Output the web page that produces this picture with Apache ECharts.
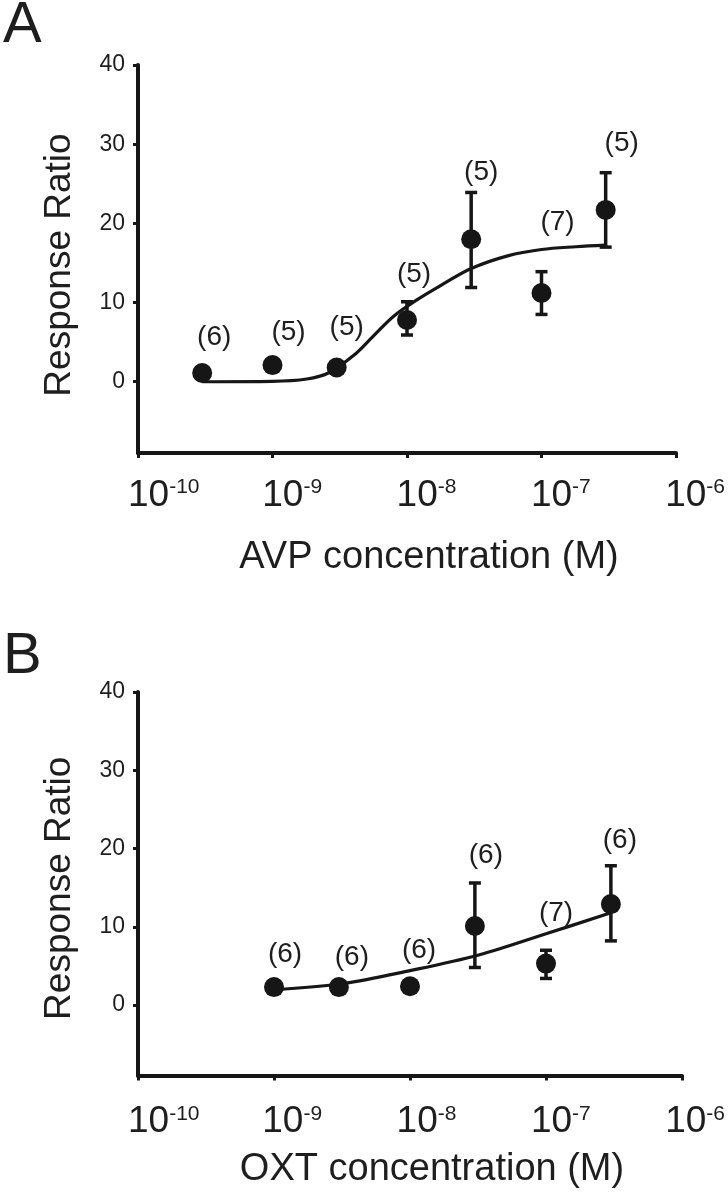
<!DOCTYPE html>
<html><head><meta charset="utf-8">
<script src="https://cdn.jsdelivr.net/npm/echarts@6/dist/echarts.min.js"></script>
<style>html,body{margin:0;padding:0;background:#fff}#c{width:728px;height:1200px}</style>
</head><body><div id="c"></div>
<script>
// ---------- Panel A : AVP ----------
const avpConc = [3e-10, 1e-9, 3e-9, 1e-8, 3e-8, 1e-7, 3e-7];
const avpMean = [1.1, 2.1, 1.8, 7.8, 18.0, 11.2, 21.7];
const avpLow  = [null, null, null, 5.9, 11.9, 8.5, 17.0];
const avpHigh = [null, null, null, 10.1, 23.9, 13.9, 26.4];
const avpN    = ['(6)', '(5)', '(5)', '(5)', '(5)', '(7)', '(5)'];
const avpFitConc  = [3e-10, 1e-9, 1.8e-9, 2.6e-9, 4e-9, 5.5e-9, 8e-9, 1.2e-8, 1.8e-8, 3e-8, 5.6e-8, 1e-7, 1.8e-7, 3e-7];
const avpFitValue = [0.0, 0.05, 0.35, 1.1, 3.3, 5.6, 8.3, 10.4, 12.2, 14.3, 15.9, 16.7, 17.05, 17.25];

// ---------- Panel B : OXT ----------
const oxtConc = [1e-9, 3e-9, 1e-8, 3e-8, 1e-7, 3e-7];
const oxtMean = [2.3, 2.3, 2.4, 10.1, 5.3, 12.9];
const oxtLow  = [null, null, null, 4.8, 3.4, 8.2];
const oxtHigh = [null, null, null, 15.6, 7.0, 17.8];
const oxtN    = ['(6)', '(6)', '(6)', '(6)', '(7)', '(6)'];
const oxtFitConc  = [1e-9, 3.2e-9, 1e-8, 3.2e-8, 1e-7, 3e-7];
const oxtFitValue = [1.95, 2.75, 4.4, 6.4, 9.1, 11.8];

// ---------- Axes ----------
const xMin = 1e-10, xMax = 1e-6;
const yMin = -9, yMax = 40;
const yTicks = [0, 10, 20, 30, 40];
const panelLetters = ['A', 'B'];
const xNames = ['AVP concentration (M)', 'OXT concentration (M)'];
const yName = 'Response Ratio';

// ---------- layout / style (not data) ----------
const FONT = '"Liberation Sans", Arial, Helvetica, sans-serif';
const INK = '#161616';
const TXT = '#1e1e1e';
const offsA = [[12,-36],[16,-33],[10,-40],[7,-46],[10,-67],[16,-71],[16,-67]];
const offsB = [[11,-33],[13,-30],[9,-36],[11,-71],[10,-50],[9,-64]];
const layout = [
  {left: 138, top: 65, width: 538, height: 388, nameGapX: 86, namePadY: 12, labelMargin: 24},
  {left: 138, top: 692, width: 544, height: 383.5, nameGapX: 75, namePadY: 9, labelMargin: 28}
];

function expLabel(v) {
  const e = Math.round(Math.log10(v));
  return '{b|10}{s|' + e + '}';
}

const grids = [], xAxes = [], yAxes = [], series = [];

function errRender(params, api) {
  const x = api.value(0), lo = api.value(1), hi = api.value(2);
  const pLo = api.coord([x, lo]), pHi = api.coord([x, hi]);
  const hw = 6;
  const st = {stroke: INK, lineWidth: 3.5, fill: null};
  return {type: 'group', children: [
    {type: 'line', shape: {x1: pLo[0], y1: pLo[1], x2: pHi[0], y2: pHi[1]}, style: st},
    {type: 'line', shape: {x1: pLo[0] - hw, y1: pLo[1], x2: pLo[0] + hw, y2: pLo[1]}, style: st},
    {type: 'line', shape: {x1: pHi[0] - hw, y1: pHi[1], x2: pHi[0] + hw, y2: pHi[1]}, style: st}
  ]};
}

function addPanel(p, conc, mean, low, high, nLab, offs, fitC, fitV) {
  const L = layout[p];
  const gMain = grids.length;
  grids.push({left: L.left, top: L.top, width: L.width, height: L.height, containLabel: false});
  grids.push({left: L.left - 10, top: L.top, width: L.width, height: L.height, containLabel: false});
  const xi = xAxes.length;
  xAxes.push({
    type: 'log', logBase: 10, min: xMin, max: xMax, gridIndex: gMain, position: 'bottom',
    axisLine: {show: true, onZero: false, lineStyle: {color: INK, width: 4}},
    axisTick: {show: true, length: 5, lineStyle: {color: INK, width: 3}},
    axisLabel: {show: false}, splitLine: {show: false}, minorTick: {show: false},
    name: xNames[p], nameLocation: 'middle', nameGap: L.nameGapX,
    nameTextStyle: {fontFamily: FONT, fontSize: 38, color: TXT, padding: [0, 0, 0, 44]}
  });
  xAxes.push({
    type: 'log', logBase: 10, min: xMin, max: xMax, gridIndex: gMain + 1, position: 'bottom',
    axisLine: {show: false, onZero: false}, axisTick: {show: false}, splitLine: {show: false},
    axisLabel: {
      show: true, align: 'left', margin: L.labelMargin, formatter: expLabel,
      rich: {
        b: {fontFamily: FONT, fontSize: 37, color: TXT},
        s: {fontFamily: FONT, fontSize: 21, color: TXT, verticalAlign: 'top', lineHeight: 14}
      }
    }
  });
  const yi = yAxes.length;
  yAxes.push({
    type: 'value', min: yMin, max: yMax, gridIndex: gMain, position: 'left',
    axisLine: {show: true, onZero: false, lineStyle: {color: INK, width: 4}},
    axisTick: {show: true, length: 5, customValues: yTicks, lineStyle: {color: INK, width: 3}},
    axisLabel: {show: true, customValues: yTicks, margin: 13, fontFamily: FONT, fontSize: 23, color: TXT},
    splitLine: {show: false},
    name: yName, nameLocation: 'middle', nameGap: 60,
    nameTextStyle: {fontFamily: FONT, fontSize: 37, color: TXT, padding: [0, L.namePadY, 0, 0]}
  });
  yAxes.push({type: 'value', min: yMin, max: yMax, gridIndex: gMain + 1, show: false});

  series.push({
    type: 'line', xAxisIndex: xi, yAxisIndex: yi, smooth: 0.35, showSymbol: false, silent: true,
    lineStyle: {color: INK, width: 3.2}, z: 2,
    data: fitC.map((c, i) => [c, fitV[i]])
  });
  const errData = [];
  conc.forEach((c, i) => { if (low[i] != null) errData.push([c, low[i], high[i]]); });
  series.push({
    type: 'custom', xAxisIndex: xi, yAxisIndex: yi, renderItem: errRender, z: 3,
    encode: {x: 0, y: [1, 2]}, data: errData, silent: true
  });
  series.push({
    type: 'scatter', xAxisIndex: xi, yAxisIndex: yi, symbol: 'circle', symbolSize: 20, z: 4,
    itemStyle: {color: INK, opacity: 1},
    label: {show: true, position: 'inside', fontFamily: FONT, fontSize: 28, color: TXT,
      formatter: (pr) => nLab[pr.dataIndex]},
    data: conc.map((c, i) => ({value: [c, mean[i]], label: {offset: offs[i]}}))
  });
}

addPanel(0, avpConc, avpMean, avpLow, avpHigh, avpN, offsA, avpFitConc, avpFitValue);
addPanel(1, oxtConc, oxtMean, oxtLow, oxtHigh, oxtN, offsB, oxtFitConc, oxtFitValue);

const chart = echarts.init(document.getElementById('c'), null, {renderer: 'canvas'});
chart.setOption({
  backgroundColor: '#ffffff',
  animation: false,
  title: [
    {text: panelLetters[0], left: 3, top: -3, padding: 0, textStyle: {fontFamily: FONT, fontSize: 58, fontWeight: 'normal', color: TXT}},
    {text: panelLetters[1], left: 3, top: 628, padding: 0, textStyle: {fontFamily: FONT, fontSize: 58, fontWeight: 'normal', color: TXT}}
  ],
  grid: grids, xAxis: xAxes, yAxis: yAxes, series: series
});
</script>
</body></html>
